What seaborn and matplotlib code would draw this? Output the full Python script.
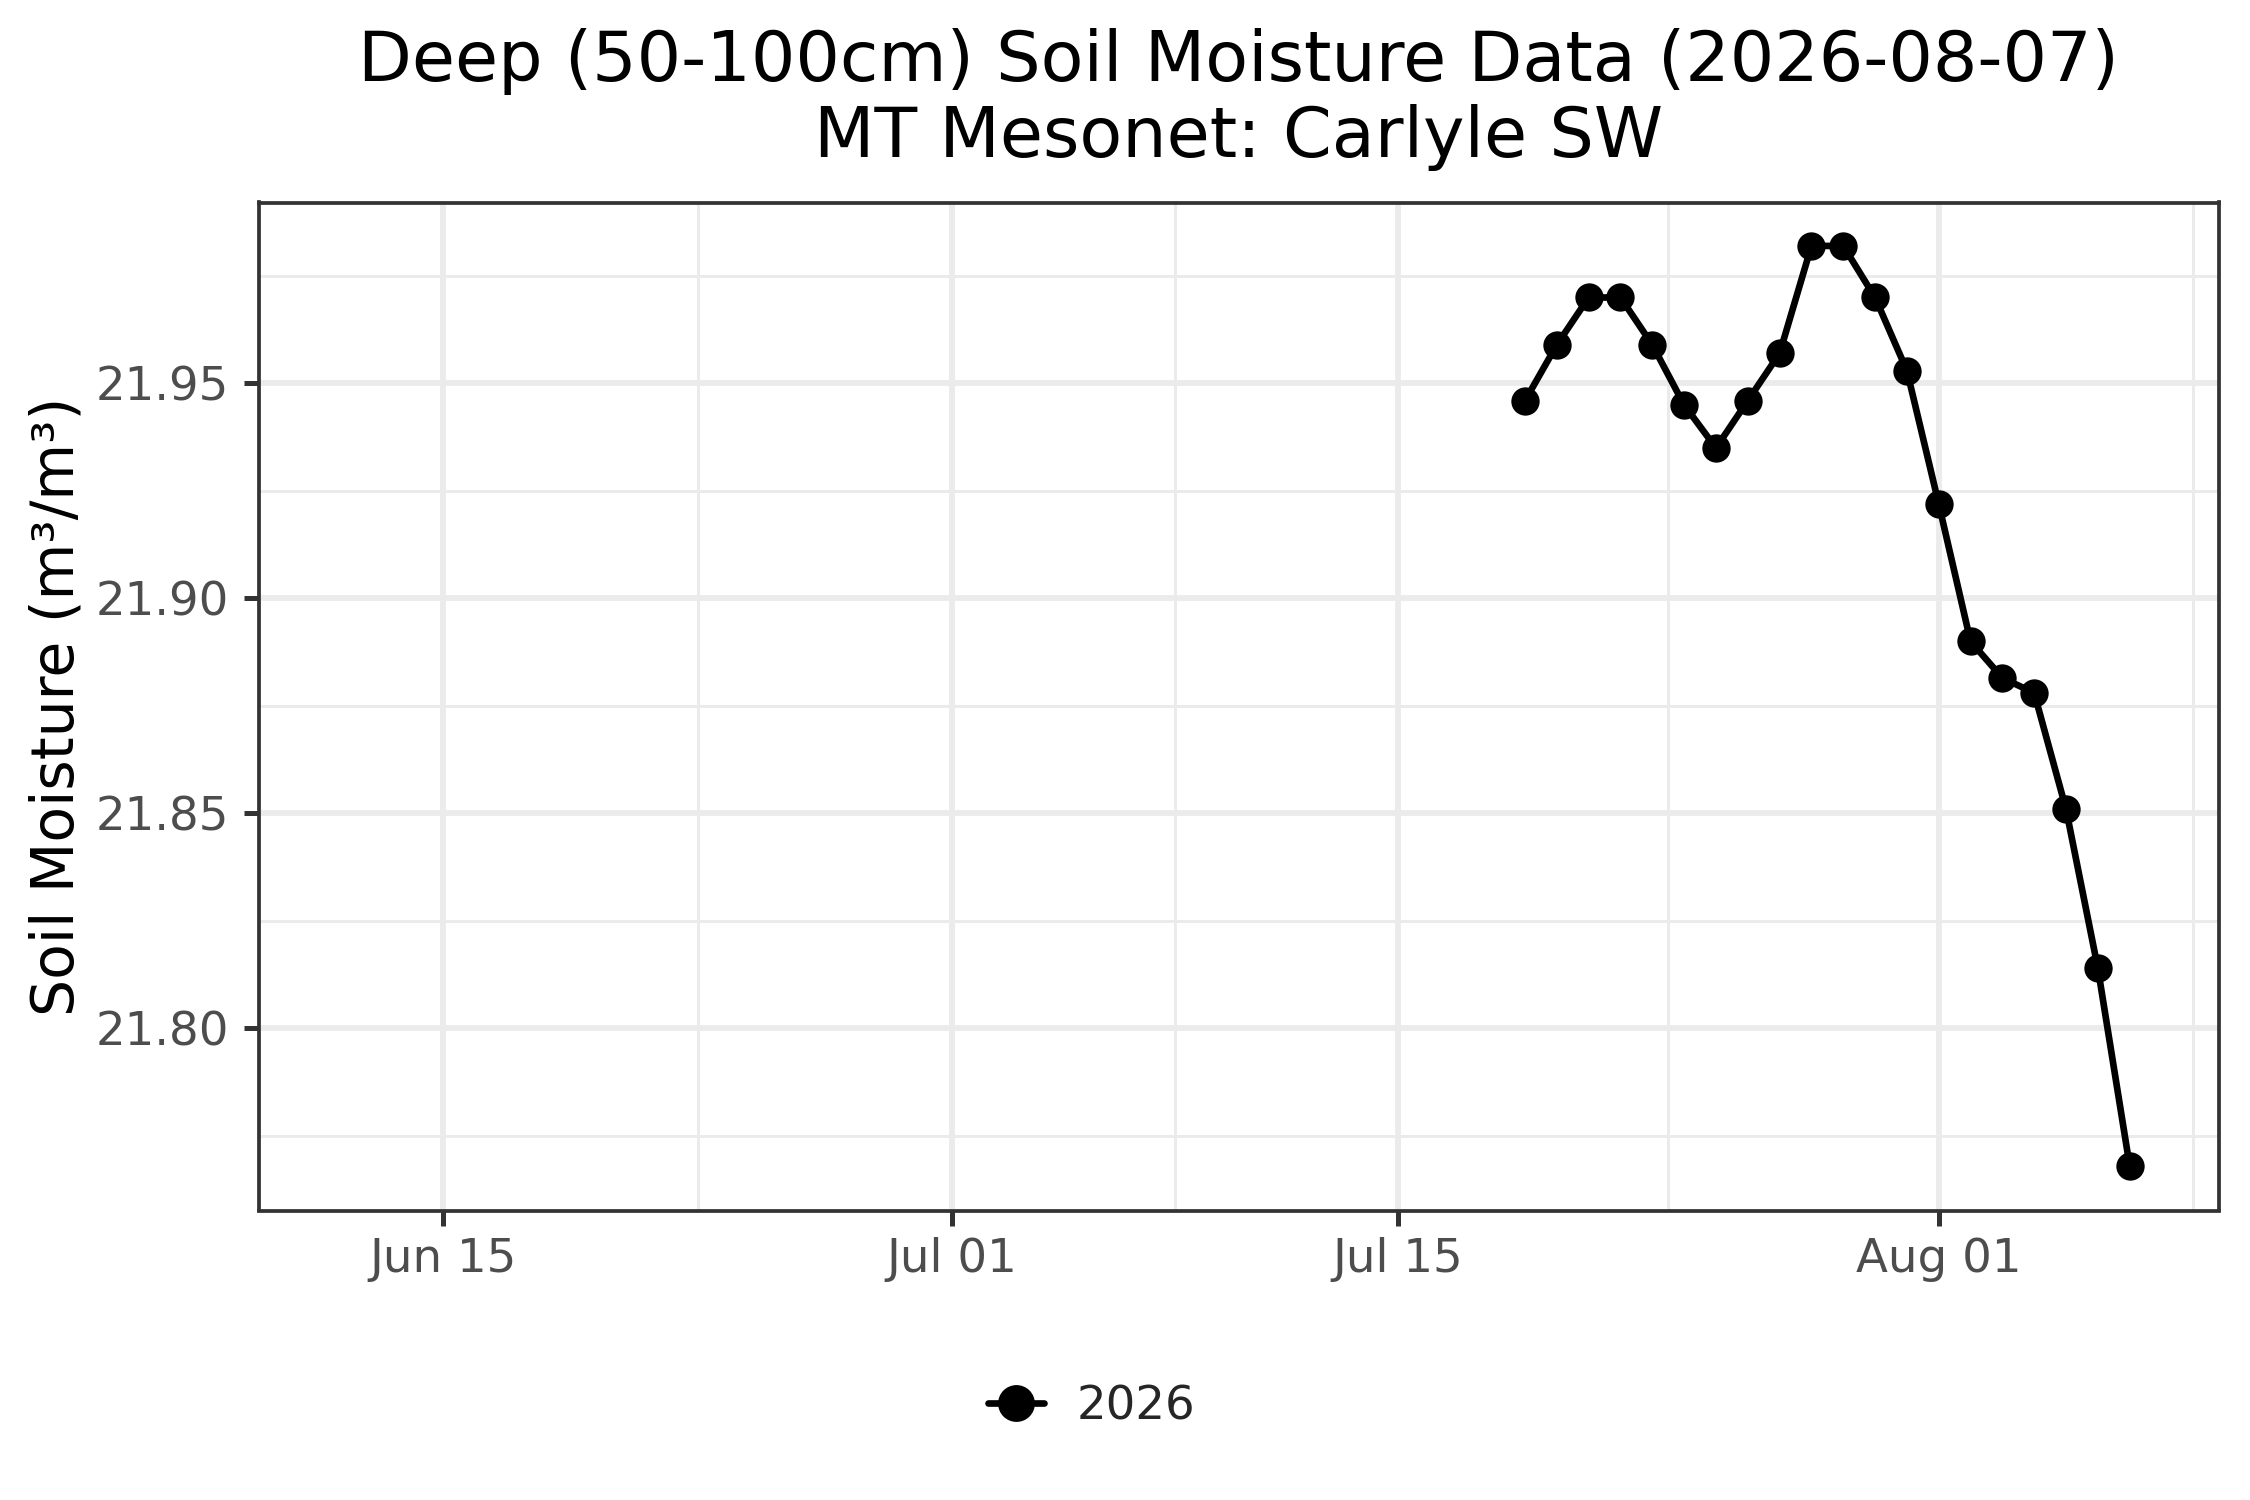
import numpy as np
import pandas as pd
import matplotlib
matplotlib.use("Agg")
import matplotlib.pyplot as plt
import matplotlib.dates as mdates
from matplotlib.ticker import FixedLocator
import seaborn as sns

# daily readings, deep (50-100cm) sensor
dates = ["2026-07-19", "2026-07-20", "2026-07-21", "2026-07-22", "2026-07-23",
         "2026-07-24", "2026-07-25", "2026-07-26", "2026-07-27", "2026-07-28",
         "2026-07-29", "2026-07-30", "2026-07-31", "2026-08-01", "2026-08-02",
         "2026-08-03", "2026-08-04", "2026-08-05", "2026-08-06", "2026-08-07"]
moisture = [21.946, 21.959, 21.970, 21.970, 21.959,
            21.945, 21.935, 21.946, 21.957, 21.982,
            21.982, 21.970, 21.953, 21.922, 21.890,
            21.8815, 21.878, 21.851, 21.814, 21.768]
year = "2026"

x_ticks = ["2026-06-15 00:00", "2026-07-01 00:00", "2026-07-15 00:00", "2026-08-01 00:00"]
x_minor = ["2026-06-23 00:00", "2026-07-08 00:00", "2026-07-23 12:00", "2026-08-09 00:00"]
y_ticks = [21.80, 21.85, 21.90, 21.95]
y_minor = [21.775, 21.825, 21.875, 21.925, 21.975]

df = pd.DataFrame({"date": pd.to_datetime(dates), "moisture": moisture, "year": year})

sns.set_theme(style="white")
plt.rcParams["font.family"] = ["DejaVu Sans"]

fig = plt.figure(figsize=(7.5, 5), dpi=300)
ax = fig.add_axes([0.115, 0.193, 0.871, 0.672])

sns.lineplot(data=df, x="date", y="moisture", hue="year", palette=["black"],
             marker="o", markersize=6.8, markeredgewidth=0, linewidth=1.6,
             ax=ax, zorder=3)

ax.set_xlim(pd.Timestamp("2026-06-09 05:00"), pd.Timestamp("2026-08-09 19:00"))
ax.set_ylim(21.7576, 21.9921)

ax.xaxis.set_major_locator(FixedLocator(mdates.date2num(pd.to_datetime(x_ticks))))
ax.xaxis.set_minor_locator(FixedLocator(mdates.date2num(pd.to_datetime(x_minor))))
ax.xaxis.set_major_formatter(mdates.DateFormatter("%b %d"))
ax.yaxis.set_major_locator(FixedLocator(y_ticks))
ax.yaxis.set_minor_locator(FixedLocator(y_minor))
ax.yaxis.set_major_formatter(matplotlib.ticker.FormatStrFormatter("%.2f"))

ax.grid(which="major", color="#EBEBEB", linewidth=1.4)
ax.grid(which="minor", color="#EBEBEB", linewidth=0.7)
ax.set_axisbelow(True)

ax.tick_params(which="major", length=3.6, width=1.2, color="#333333",
               labelsize=11.2, labelcolor="#4D4D4D",
               bottom=True, left=True)
ax.tick_params(axis="y", which="major", pad=3.6)
ax.tick_params(axis="x", which="major", pad=2.8)
ax.tick_params(which="minor", length=0)
for s in ax.spines.values():
    s.set_color("#333333")
    s.set_linewidth(0.9)

ax.set_xlabel("")
ax.set_ylabel("Soil Moisture (m³/m³)", fontsize=14, color="black", labelpad=2.3)
ax.set_title("Deep (50-100cm) Soil Moisture Data (2026-08-07)\nMT Mesonet: Carlyle SW",
             fontsize=16.8, color="black", pad=11, linespacing=1.17)

ax.legend(loc="center", bbox_to_anchor=(0.485, 0.062), bbox_transform=fig.transFigure,
          frameon=False, fontsize=11.2, handlelength=1.2, handletextpad=0.7,
          markerscale=1.3, title=None)

fig.savefig("out.png", dpi=300)
